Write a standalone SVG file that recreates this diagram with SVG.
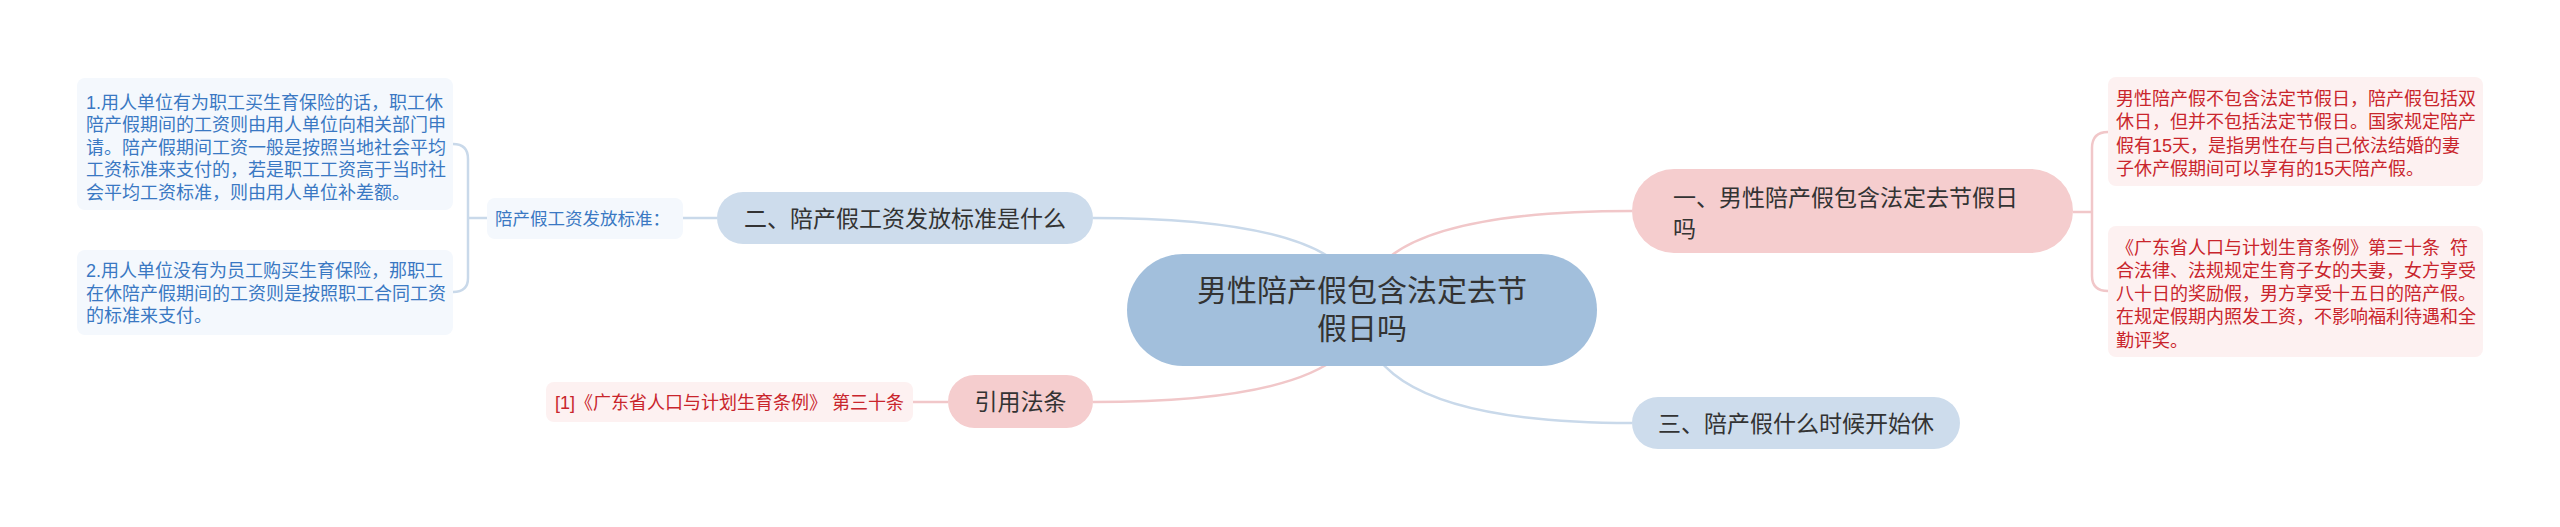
<svg xmlns="http://www.w3.org/2000/svg" width="2560" height="527" viewBox="0 0 2560 527">
<style>
text{font-family:"Liberation Sans","Noto Sans CJK SC",sans-serif;}
.main{font-size:23px;fill:#333;}
.root{font-size:30px;fill:#333;text-anchor:middle;}
.bt{font-size:18px;fill:#3a78c3;}
.rt{font-size:18px;fill:#c9252c;}
.lb{font-size:17.5px;fill:#3a78c3;}
.ct{font-size:18px;fill:#c9252c;}
.cb{fill:none;stroke:#c9d9ea;stroke-width:2.5;}
.cp{fill:none;stroke:#f1c7c9;stroke-width:2.5;}
.bn{fill:#cddcec;}
.pn{fill:#f5cdce;}
.bb{fill:#f4f8fd;}
.pb{fill:#fdf1f1;}
</style>
<rect width="2560" height="527" fill="#fff"/>
<g id="connectors">
<path class="cb" d="M1362 310 Q1362 218 1093 218"/>
<path class="cp" d="M1362 310 Q1362 402 1093 402"/>
<path class="cp" d="M1362 310 Q1362 211 1632 211"/>
<path class="cb" d="M1362 310 Q1362 423 1632 423"/>
<path class="cb" d="M717 218 L683 218"/>
<path class="cb" d="M487 218 L468 218"/>
<path class="cb" d="M453 144 Q468 144 468 159 L468 278 Q468 292 453 292"/>
<path class="cp" d="M948 402 L913 402"/>
<path class="cp" d="M2073 212 L2092 212"/>
<path class="cp" d="M2108 132 Q2092 132 2092 148 L2092 276 Q2092 291 2108 291"/>
</g>
<g id="root">
<rect x="1127" y="254" width="470" height="112" rx="56" fill="#a2bfdc"/>
<text class="root" x="1362" y="301">男性陪产假包含法定去节</text>
<text class="root" x="1362" y="339">假日吗</text>
</g>
<g id="n1">
<rect class="pn" x="1632" y="169" width="441" height="84" rx="42"/>
<text class="main" x="1673" y="205.5">一、男性陪产假包含法定去节假日</text>
<text class="main" x="1673" y="236.5">吗</text>
</g>
<g id="n2">
<rect class="bn" x="717" y="192" width="376" height="52" rx="26"/>
<text class="main" x="905" y="226.5" text-anchor="middle">二、陪产假工资发放标准是什么</text>
</g>
<g id="n3">
<rect class="bn" x="1632" y="397" width="328" height="52" rx="26"/>
<text class="main" x="1796" y="431.5" text-anchor="middle">三、陪产假什么时候开始休</text>
</g>
<g id="n4">
<rect class="pn" x="948" y="375" width="145" height="53" rx="26.5"/>
<text class="main" x="1020.5" y="410" text-anchor="middle">引用法条</text>
</g>
<g id="label2">
<rect class="bb" x="487" y="198" width="196" height="41" rx="8"/>
<text class="lb" x="495" y="224.5">陪产假工资发放标准：</text>
</g>
<g id="box2a">
<rect class="bb" x="77" y="78" width="376" height="132" rx="8"/>
<text class="bt" x="86" y="108.5">1.用人单位有为职工买生育保险的话，职工休</text>
<text class="bt" x="86" y="131">陪产假期间的工资则由用人单位向相关部门申</text>
<text class="bt" x="86" y="153.5">请。陪产假期间工资一般是按照当地社会平均</text>
<text class="bt" x="86" y="176">工资标准来支付的，若是职工工资高于当时社</text>
<text class="bt" x="86" y="198.5">会平均工资标准，则由用人单位补差额。</text>
</g>
<g id="box2b">
<rect class="bb" x="77" y="250" width="376" height="85" rx="8"/>
<text class="bt" x="86" y="277">2.用人单位没有为员工购买生育保险，那职工</text>
<text class="bt" x="86" y="299.5">在休陪产假期间的工资则是按照职工合同工资</text>
<text class="bt" x="86" y="322">的标准来支付。</text>
</g>
<g id="cite">
<rect class="pb" x="546" y="382" width="367" height="40" rx="8"/>
<text class="ct" x="555" y="409">[1]《广东省人口与计划生育条例》&#160;第三十条</text>
</g>
<g id="box1a">
<rect class="pb" x="2108" y="77" width="375" height="109" rx="8"/>
<text class="rt" x="2116" y="105">男性陪产假不包含法定节假日，陪产假包括双</text>
<text class="rt" x="2116" y="128.3">休日，但并不包括法定节假日。国家规定陪产</text>
<text class="rt" x="2116" y="151.6">假有15天，是指男性在与自己依法结婚的妻</text>
<text class="rt" x="2116" y="174.9">子休产假期间可以享有的15天陪产假。</text>
</g>
<g id="box1b">
<rect class="pb" x="2108" y="226" width="375" height="131" rx="8"/>
<text class="rt" x="2116" y="253.5">《广东省人口与计划生育条例》第三十条&#160;&#160;符</text>
<text class="rt" x="2116" y="276.8">合法律、法规规定生育子女的夫妻，女方享受</text>
<text class="rt" x="2116" y="300.1">八十日的奖励假，男方享受十五日的陪产假。</text>
<text class="rt" x="2116" y="323.4">在规定假期内照发工资，不影响福利待遇和全</text>
<text class="rt" x="2116" y="346.7">勤评奖。</text>
</g>
</svg>
